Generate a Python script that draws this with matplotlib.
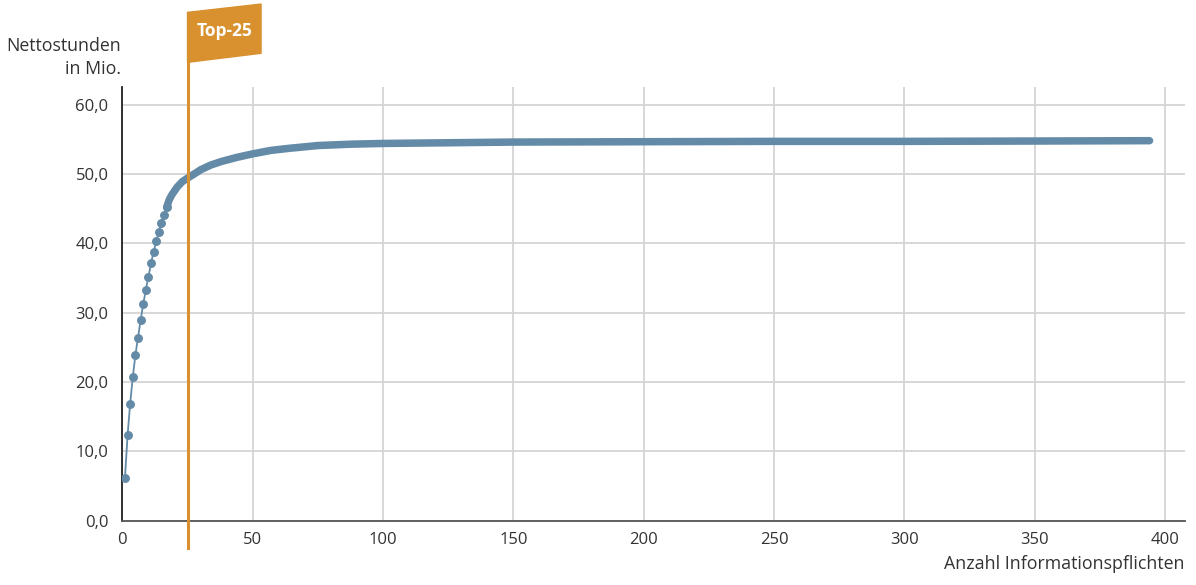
"""
Nettostunden nach Anzahl Informationspflichten (kumuliert)
"""

import matplotlib
matplotlib.use("Agg")
import matplotlib.pyplot as plt
from matplotlib.patches import Polygon
from matplotlib.ticker import FuncFormatter

# ===============================
# DATA
# ===============================

# single points at the start of the curve
head_x = list(range(1, 18))
head_y = [6.2, 12.3, 16.9, 20.7, 23.9, 26.4, 28.9, 31.2, 33.3, 35.2,
          37.1, 38.8, 40.3, 41.7, 43.0, 44.1, 45.2]

# dense part of the curve (points overlap into a band)
band_x = [17, 18, 19, 21, 23, 25, 28, 30, 34, 38, 44, 50, 57, 64, 75,
          88, 100, 125, 150, 200, 250, 300, 350, 394]
band_y = [45.2, 46.3, 47.0, 48.1, 48.9, 49.4, 50.1, 50.6, 51.3, 51.8,
          52.4, 52.9, 53.4, 53.7, 54.1, 54.3, 54.4, 54.5, 54.6, 54.65,
          54.7, 54.7, 54.75, 54.8]

top25 = 25

x_ticks = [0, 50, 100, 150, 200, 250, 300, 350, 400]
y_ticks = [0, 10, 20, 30, 40, 50, 60]

BLUE = "#638aa6"
ORANGE = "#d9902e"
TEXT = "#333333"
GRID = "#d4d4d4"

plt.rcParams["font.family"] = ["Open Sans", "DejaVu Sans"]

# ===============================
# PLOT
# ===============================

fig = plt.figure(figsize=(11.96, 5.85), dpi=100)
ax = fig.add_axes([0.1023, 0.1099, 0.9908 - 0.1023, 0.8508 - 0.1099])

ax.plot(head_x, head_y, color=BLUE, lw=1.3, marker="o", ms=5.4,
        mec=BLUE, mfc=BLUE, zorder=4)
ax.plot(band_x, band_y, color=BLUE, lw=5.4, solid_capstyle="round",
        solid_joinstyle="round", zorder=4)

ax.set_xlim(0, 407.6)
ax.set_ylim(0, 62.5)
ax.set_xticks(x_ticks)
ax.set_yticks(y_ticks)
ax.yaxis.set_major_formatter(FuncFormatter(lambda v, p: f"{v:.1f}".replace(".", ",")))
ax.tick_params(length=0, labelsize=12, labelcolor=TEXT)
ax.tick_params(axis="y", pad=10)
ax.tick_params(axis="x", pad=8)

ax.grid(True, color=GRID, lw=1.3)
ax.set_axisbelow(True)
for side in ["top", "right"]:
    ax.spines[side].set_visible(False)
ax.spines["left"].set_color("#222222")
ax.spines["bottom"].set_color("#555555")
ax.spines["left"].set_linewidth(1.3)
ax.spines["bottom"].set_linewidth(1.3)

# Top-25 marker line and flag
ax.axvline(top25, ymin=-0.063, ymax=1.0568, color=ORANGE, lw=2.2,
           clip_on=False, zorder=5)
flag = Polygon([(top25, 73.3), (53.2, 74.5), (53.2, 67.4), (top25, 66.1)],
               closed=True, color=ORANGE, clip_on=False, zorder=5)
ax.add_patch(flag)
ax.text((top25 + 53.2) / 2, 70.6, "Top-25", color="white", fontsize=12.5,
        fontweight="bold", ha="center", va="center", clip_on=False, zorder=6)

fig.text(0.1012, 0.937, "Nettostunden\nin Mio.", ha="right", va="top",
         fontsize=12.8, color=TEXT, linespacing=1.35)
fig.text(0.9908, 0.020, "Anzahl Informationspflichten", ha="right",
         va="bottom", fontsize=12.8, color=TEXT)

fig.savefig("out.png", dpi=100)
